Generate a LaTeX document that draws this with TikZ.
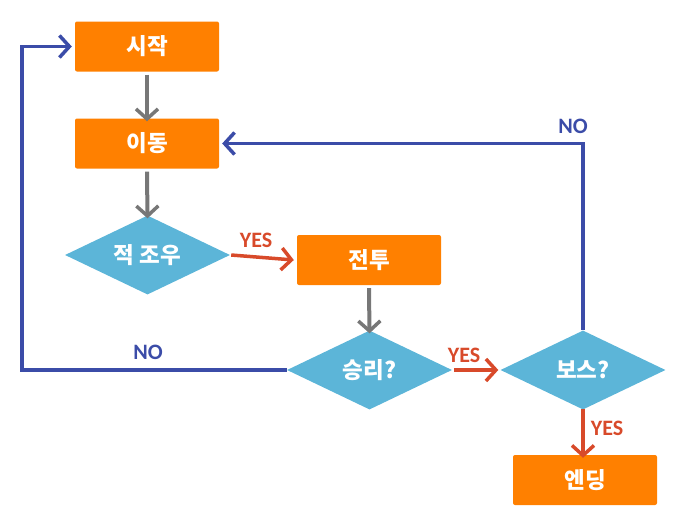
\documentclass[tikz,border=0pt]{standalone}
\usepackage{fontspec}
\newfontfamily\kr{Noto Sans CJK KR}
\newfontfamily\lab{Carlito}
\usetikzlibrary{shapes.geometric,arrows.meta}
\definecolor{boxor}{HTML}{FF8000}
\definecolor{diabl}{HTML}{5CB5D8}
\definecolor{arrgray}{HTML}{777777}
\definecolor{arrred}{HTML}{D84A2A}
\definecolor{arrblue}{HTML}{3B4CA8}
\tikzset{
  procbox/.style={draw=none,fill=boxor,rounded corners=2pt,minimum width=144pt,minimum height=50pt,inner sep=0pt,text=white,font=\kr\bfseries\fontsize{22.5}{26}\selectfont},
  decbox/.style={diamond,aspect=2.1,draw=none,fill=diabl,minimum width=165pt,minimum height=79pt,inner sep=0pt,text=white,font=\kr\bfseries\fontsize{22.5}{26}\selectfont},
  tipb/.style={-{Straight Barb[length=10pt,width=22pt,line width=3.5pt]}},
  grayarr/.style={tipb,draw=arrgray,line width=4pt},
  redarr/.style={tipb,draw=arrred,line width=3.5pt},
  bluearr/.style={tipb,draw=arrblue,line width=3.5pt},
  ylab/.style={text=arrred,font=\lab\bfseries\fontsize{22}{26}\selectfont,inner sep=0pt},
  nlab/.style={text=arrblue,font=\lab\bfseries\fontsize{22}{26}\selectfont,inner sep=0pt},
}
\begin{document}
\begin{tikzpicture}[x=1pt,y=-1pt]
\useasboundingbox (0,0) rectangle (673,517);
\node[procbox] (start) at (147,46.5) {시작};
\node[procbox] (move) at (147,143.5) {이동};
\node[decbox] (enc) at (147.5,255) {적 조우};
\node[procbox] (fight) at (369,260) {전투};
\node[decbox] (win) at (369.5,370) {승리?};
\node[decbox] (boss) at (583,370) {보스?};
\node[procbox] (end) at (585,480) {엔딩};
\coordinate (lc) at (22,0);

\draw[grayarr] (start.south) ++(0,3) -- ([yshift=-3pt]move.north);
\draw[grayarr] (move.south) ++(0,3) -- ([yshift=-3pt]enc.north);
\draw[grayarr] (fight.south) ++(0,3) -- ([yshift=-3pt]win.north);
\draw[redarr] ([xshift=1pt]enc.east) -- ([xshift=-3pt]fight.west);
\draw[redarr] ([xshift=2pt]win.east) -- ([xshift=-2pt]boss.west);
\draw[redarr] ([yshift=1pt]boss.south) -- ([yshift=-3pt]boss.south |- end.north);
\draw[bluearr] (win.west) -- (win.west -| lc) |- ([xshift=-3pt]start.west);
\draw[bluearr] (boss.north) |- ([xshift=3pt]move.east);

\node[ylab] (y1) at (256,240) {YES};
\node[ylab] (y2) at (464,355) {YES};
\node[ylab] (y3) at (607,428) {YES};
\node[nlab] (n1) at (148,352) {NO};
\node[nlab] (n2) at (573,126) {NO};
\end{tikzpicture}
\end{document}
